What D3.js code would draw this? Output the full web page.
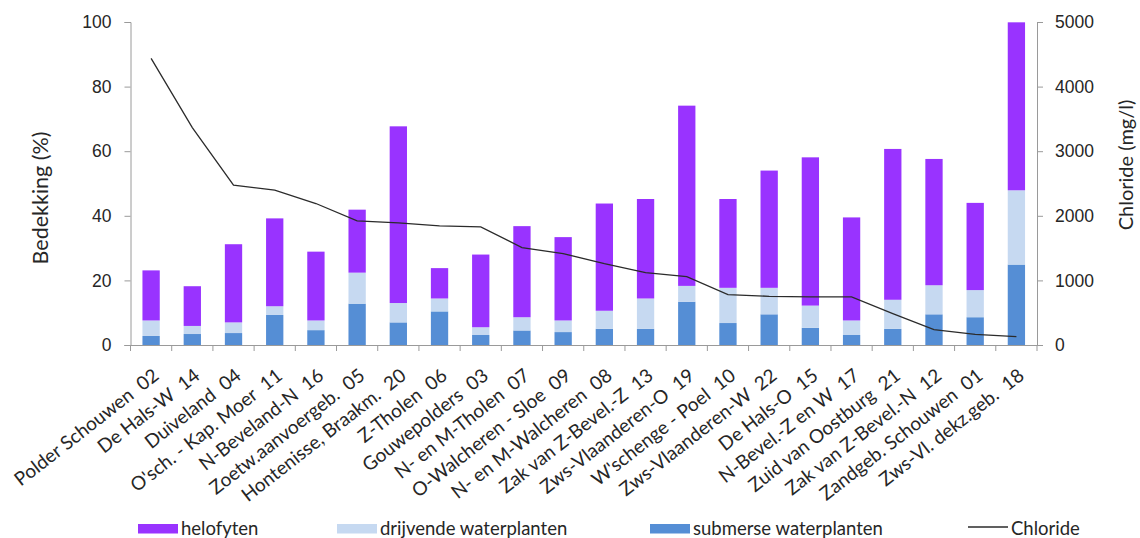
<!DOCTYPE html>
<html>
<head>
<meta charset="utf-8">
<script src="https://cdn.jsdelivr.net/npm/d3@7"></script>
<style>
  html, body { margin: 0; padding: 0; background: #fff; }
  svg { display: block; font-family: Lato, "Open Sans", sans-serif; }
</style>
</head>
<body>
<svg id="chart" width="1140" height="538"></svg>
<script>
// Gebieden (naam + code), gesorteerd op afnemend chloridegehalte
const areaNames = [
  "Polder Schouwen", "De Hals-W", "Duiveland", "O'sch. - Kap. Moer", "N-Beveland-N",
  "Zoetw.aanvoergeb.", "Hontenisse, Braakm.", "Z-Tholen", "Gouwepolders", "N- en M-Tholen",
  "O-Walcheren - Sloe", "N- en M-Walcheren", "Zak van Z-Bevel.-Z", "Zws-Vlaanderen-O", "W'schenge - Poel",
  "Zws-Vlaanderen-W", "De Hals-O", "N-Bevel.-Z en W", "Zuid van Oostburg", "Zak van Z-Bevel.-N",
  "Zandgeb. Schouwen", "Zws-Vl. dekz.geb."
];
const areaCodes = [
  "02", "14", "04", "11", "16", "05", "20", "06", "03", "07",
  "09", "08", "13", "19", "10", "22", "15", "17", "21", "12", "01", "18"
];

// Bedekking (%) per vegetatietype
const submerse = [2.8, 3.4, 3.7, 9.3, 4.6, 12.8, 7.0, 10.4, 3.1, 4.5,
                  4.0, 5.0, 5.0, 13.4, 6.8, 9.5, 5.3, 3.1, 5.0, 9.5, 8.6, 24.9];
const drijvende = [4.8, 2.5, 3.3, 2.7, 3.0, 9.6, 6.0, 4.0, 2.4, 4.1,
                   3.6, 5.6, 9.4, 4.9, 10.9, 8.2, 6.9, 4.5, 9.0, 9.0, 8.4, 23.0];
const helofyten = [15.5, 12.3, 24.2, 27.2, 21.3, 19.5, 54.7, 9.4, 22.5, 28.2,
                   25.8, 33.2, 30.8, 55.8, 27.5, 36.3, 45.9, 31.9, 46.7, 39.1, 27.0, 52.0];

// Chloride (mg/l)
const chloride = [4437, 3366, 2474, 2397, 2190, 1921, 1890, 1844, 1829, 1508,
                  1415, 1260, 1121, 1059, 780, 754, 744, 744, 486, 238, 165, 129];

const leftTicks = [0, 20, 40, 60, 80, 100];
const rightTicks = [0, 1000, 2000, 3000, 4000, 5000];

const seriesKeys = ["submerse", "drijvende", "helofyten"];
const seriesLabels = {
  helofyten: "helofyten",
  drijvende: "drijvende waterplanten",
  submerse: "submerse waterplanten"
};
const seriesColors = {
  helofyten: "#9933FF",
  drijvende: "#C6D9F1",
  submerse: "#558ED5"
};

// Categorielabel: naam, twee spaties, code
const rows = areaNames.map((n, i) => ({
  label: n + "\u00a0\u00a0" + areaCodes[i],
  submerse: submerse[i],
  drijvende: drijvende[i],
  helofyten: helofyten[i],
  chloride: chloride[i]
}));

const svg = d3.select("#chart");
const plot = { left: 130.5, right: 1037, top: 22, bottom: 345 };

const x = d3.scaleBand()
  .domain(rows.map(d => d.label))
  .range([plot.left, plot.right])
  .paddingInner(0).paddingOuter(0);
const yL = d3.scaleLinear().domain([0, 100]).range([plot.bottom, plot.top]);
const yR = d3.scaleLinear().domain([0, 5000]).range([plot.bottom, plot.top]);

const axisColor = "#9a9a9a";
const textColor = "#262626";

// Gestapelde staven
const stack = d3.stack().keys(seriesKeys)(rows);
const barW = x.bandwidth() * 0.42;
svg.append("g").selectAll("g")
  .data(stack).join("g")
  .attr("fill", s => seriesColors[s.key])
  .selectAll("rect")
  .data(s => s).join("rect")
  .attr("x", d => x(d.data.label) + (x.bandwidth() - barW) / 2)
  .attr("width", barW)
  .attr("y", d => yL(d[1]))
  .attr("height", d => yL(d[0]) - yL(d[1]));

// Linkeras
const gL = svg.append("g")
  .attr("transform", `translate(${plot.left},0)`)
  .call(d3.axisLeft(yL).tickValues(leftTicks).tickSize(6).tickPadding(13));
gL.select(".domain").attr("stroke", axisColor);
gL.selectAll(".tick line").attr("stroke", axisColor);
gL.selectAll("text").attr("fill", textColor).style("font-size", "17.5px");

// Rechteras
const gR = svg.append("g")
  .attr("transform", `translate(${plot.right},0)`)
  .call(d3.axisRight(yR).tickValues(rightTicks).tickFormat(d3.format("d")).tickSize(6).tickPadding(12));
gR.select(".domain").attr("stroke", axisColor);
gR.selectAll(".tick line").attr("stroke", axisColor);
gR.selectAll("text").attr("fill", textColor).style("font-size", "17.5px");

// Categorie-as
const boundaries = d3.range(rows.length + 1).map(i => plot.left + i * x.step());
const gX = svg.append("g");
gX.append("line")
  .attr("x1", plot.left - 6).attr("x2", plot.right + 4)
  .attr("y1", plot.bottom + 0.5).attr("y2", plot.bottom + 0.5)
  .attr("stroke", axisColor);
gX.selectAll("line.tk").data(boundaries).join("line")
  .attr("class", "tk")
  .attr("x1", d => d).attr("x2", d => d)
  .attr("y1", plot.bottom).attr("y2", plot.bottom + 6)
  .attr("stroke", axisColor);
gX.selectAll("text").data(rows).join("text")
  .attr("transform", d => `translate(${x(d.label) + x.bandwidth() / 2 + 9},${plot.bottom + 33}) rotate(-38)`)
  .attr("text-anchor", "end")
  .attr("fill", textColor)
  .style("font-size", "19px")
  .text(d => d.label);

// Chloride-lijn
const line = d3.line()
  .x(d => x(d.label) + x.bandwidth() / 2)
  .y(d => yR(d.chloride));
svg.append("path")
  .datum(rows)
  .attr("fill", "none")
  .attr("stroke", "#2b2b2b")
  .attr("stroke-width", 1.3)
  .attr("d", line);

// Astitels
svg.append("text")
  .attr("transform", "translate(48,198) rotate(-90)")
  .attr("text-anchor", "middle")
  .attr("fill", textColor)
  .style("font-size", "21.5px")
  .text("Bedekking (%)");
svg.append("text")
  .attr("transform", "translate(1133,165) rotate(-90)")
  .attr("text-anchor", "middle")
  .attr("fill", textColor)
  .style("font-size", "20px")
  .text("Chloride (mg/l)");

// Legenda
const legendItems = [
  { key: "helofyten", x: 138, type: "rect" },
  { key: "drijvende", x: 337, type: "rect" },
  { key: "submerse", x: 650, type: "rect" },
  { key: "chloride", x: 968, type: "line" }
];
const lg = svg.append("g");
legendItems.forEach(it => {
  if (it.type === "rect") {
    lg.append("rect")
      .attr("x", it.x).attr("y", 524)
      .attr("width", 40).attr("height", 9.5)
      .attr("fill", seriesColors[it.key]);
  } else {
    lg.append("line")
      .attr("x1", it.x).attr("x2", it.x + 40)
      .attr("y1", 527).attr("y2", 527)
      .attr("stroke", "#2b2b2b").attr("stroke-width", 1.3);
  }
  lg.append("text")
    .attr("x", it.x + 43).attr("y", 535)
    .attr("fill", textColor)
    .style("font-size", "18.5px")
    .text(it.key === "chloride" ? "Chloride" : seriesLabels[it.key]);
});
</script>
</body>
</html>
